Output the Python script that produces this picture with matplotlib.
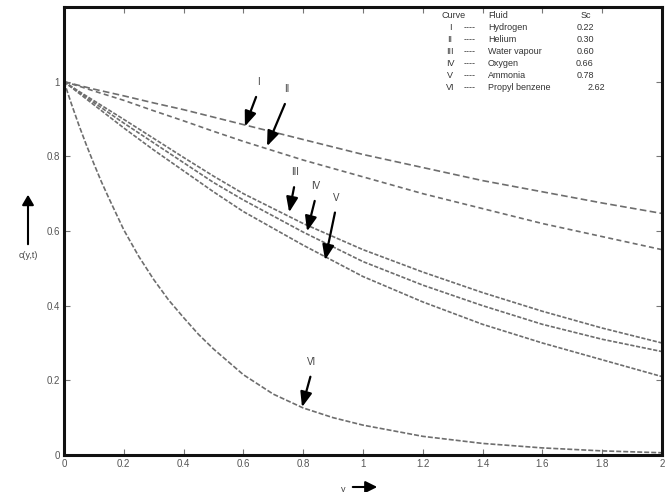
import matplotlib
matplotlib.use("Agg")
import matplotlib.pyplot as plt

plt.rcParams['font.family'] = ['Liberation Sans', 'DejaVu Sans']

# data
x_common = [0, 0.05, 0.1, 0.2, 0.3, 0.4, 0.5, 0.6, 0.8, 1.0, 1.2, 1.4, 1.6, 1.8, 2.0]
c_I   = [1, 0.99, 0.98, 0.962, 0.943, 0.925, 0.905, 0.885, 0.845, 0.805, 0.77, 0.735, 0.705, 0.675, 0.647]
c_II  = [1, 0.988, 0.975, 0.95, 0.922, 0.895, 0.867, 0.84, 0.79, 0.745, 0.70, 0.66, 0.62, 0.585, 0.55]
c_III = [1, 0.974, 0.949, 0.899, 0.848, 0.797, 0.747, 0.70, 0.62, 0.55, 0.49, 0.435, 0.385, 0.34, 0.30]
c_IV  = [1, 0.972, 0.944, 0.889, 0.836, 0.783, 0.73, 0.683, 0.597, 0.518, 0.455, 0.40, 0.35, 0.31, 0.277]
c_V   = [1, 0.969, 0.938, 0.876, 0.817, 0.761, 0.705, 0.652, 0.562, 0.478, 0.41, 0.35, 0.30, 0.255, 0.21]
x_VI  = [0, 0.025, 0.05, 0.075, 0.1, 0.125, 0.15, 0.2, 0.25, 0.3, 0.35, 0.4, 0.45, 0.5, 0.6,
         0.7, 0.8, 0.9, 1.0, 1.2, 1.4, 1.6, 1.8, 2.0]
c_VI  = [1, 0.94, 0.883, 0.83, 0.78, 0.732, 0.688, 0.603, 0.532, 0.47, 0.415, 0.368, 0.323, 0.284,
         0.215, 0.163, 0.126, 0.1, 0.08, 0.05, 0.031, 0.019, 0.011, 0.006]

curve_ids = ["I", "II", "III", "IV", "V", "VI"]
fluids = ["Hydrogen", "Helium", "Water vapour", "Oxygen", "Ammonia", "Propyl benzene"]
sc_vals = ["0.22", "0.30", "0.60", "0.66", "0.78", "2.62"]

# arrow annotations: (label position, tip position)
arrow_labels = [
    ("I",   (0.649, 0.985), (0.605, 0.880)),
    ("II",  (0.746, 0.966), (0.679, 0.827)),
    ("III", (0.773, 0.744), (0.753, 0.650)),
    ("IV",  (0.843, 0.707), (0.813, 0.599)),
    ("V",   (0.910, 0.676), (0.873, 0.522)),
    ("VI",  (0.829, 0.236), (0.796, 0.128)),
]

xticks = [0, 0.2, 0.4, 0.6, 0.8, 1, 1.2, 1.4, 1.6, 1.8, 2]
xticklabels = ["0", "0.2", "0.4", "0.6", "0.8", "1", "1.2", "1.4", "1.6", "1.8", "2"]
yticks = [0, 0.2, 0.4, 0.6, 0.8, 1]
yticklabels = ["0", "0.2", "0.4", "0.6", "0.8", "1"]

fig = plt.figure(figsize=(6.66, 4.92), dpi=100)
ax = fig.add_axes([64/666, 37/492, 598/666, 448/492])

gray = "#6e6e6e"
ax.plot(x_common, c_I, color=gray, lw=1.2, dashes=(4, 2))
ax.plot(x_common, c_II, color=gray, lw=1.2, dashes=(3, 2))
ax.plot(x_common, c_III, color=gray, lw=1.2, dashes=(2.5, 1))
ax.plot(x_common, c_IV, color=gray, lw=1.2, dashes=(2.5, 1))
ax.plot(x_common, c_V, color=gray, lw=1.2, dashes=(2.5, 1))
ax.plot(x_VI, c_VI, color=gray, lw=1.2, dashes=(3, 1.2))

ax.set_xlim(0, 2)
ax.set_ylim(0, 1.2)
ax.set_xticks(xticks)
ax.set_xticklabels(xticklabels)
ax.set_yticks(yticks)
ax.set_yticklabels(yticklabels)
ax.tick_params(direction="in", length=4, width=0.8, colors="#777777",
               labelsize=7, labelcolor="#555555", top=True, right=True, pad=3)
for s in ax.spines.values():
    s.set_linewidth(2.2)
    s.set_color("#111111")

for lab, (lx, ly), (tx, ty) in arrow_labels:
    ax.annotate("", xy=(tx, ty), xytext=(lx, ly - 0.012),
                arrowprops=dict(arrowstyle="-|>,head_length=0.9,head_width=0.35",
                                color="black", lw=1.6, shrinkA=4, shrinkB=0))
    ax.text(lx, ly, lab, fontsize=7, color="#444444", ha="center", va="bottom")

# legend table (axes-fraction coordinates)
def fx(px):
    return (px - 64) / 598

def fy(py):
    return (455 - py) / 448

tfs = 6.5
tc = "#333333"
ax.text(fx(442), fy(15), "Curve", transform=ax.transAxes, fontsize=tfs, color=tc, va="center")
ax.text(fx(488), fy(15), "Fluid", transform=ax.transAxes, fontsize=tfs, color=tc, va="center")
ax.text(fx(586), fy(15), "Sc", transform=ax.transAxes, fontsize=tfs, color=tc, va="center", ha="center")
row_y = [28, 40, 52, 64, 76, 88]
for i in range(6):
    yy = fy(row_y[i])
    ax.text(fx(450), yy, curve_ids[i], transform=ax.transAxes, fontsize=tfs, color=tc,
            va="center", ha="center")
    ax.text(fx(470), yy, "----", transform=ax.transAxes, fontsize=tfs, color=tc,
            va="center", ha="center")
    ax.text(fx(488), yy, fluids[i], transform=ax.transAxes, fontsize=tfs, color=tc, va="center")
    ax.text(fx(596 if i == 5 else 585), yy, sc_vals[i], transform=ax.transAxes, fontsize=tfs,
            color=tc, va="center", ha="center")

# axis labels with arrows
fig.text(28/666, 1 - 256/492, "c(y,t)", fontsize=6.5, color="#444444", ha="center", va="center")
fig.patches.append(matplotlib.patches.FancyArrowPatch(
    (28/666, 1 - 247/492), (28/666, 1 - 192/492), transform=fig.transFigure,
    arrowstyle="-|>,head_length=6,head_width=3.5", color="black", lw=1.5))
fig.text(343/666, 1 - 489/492, "y", fontsize=6.5, color="#444444", ha="center", va="center")
fig.patches.append(matplotlib.patches.FancyArrowPatch(
    (350/666, 1 - 487/492), (380/666, 1 - 487/492), transform=fig.transFigure,
    arrowstyle="-|>,head_length=7,head_width=3.5", color="black", lw=1.5))

fig.savefig("out.png", dpi=100)
